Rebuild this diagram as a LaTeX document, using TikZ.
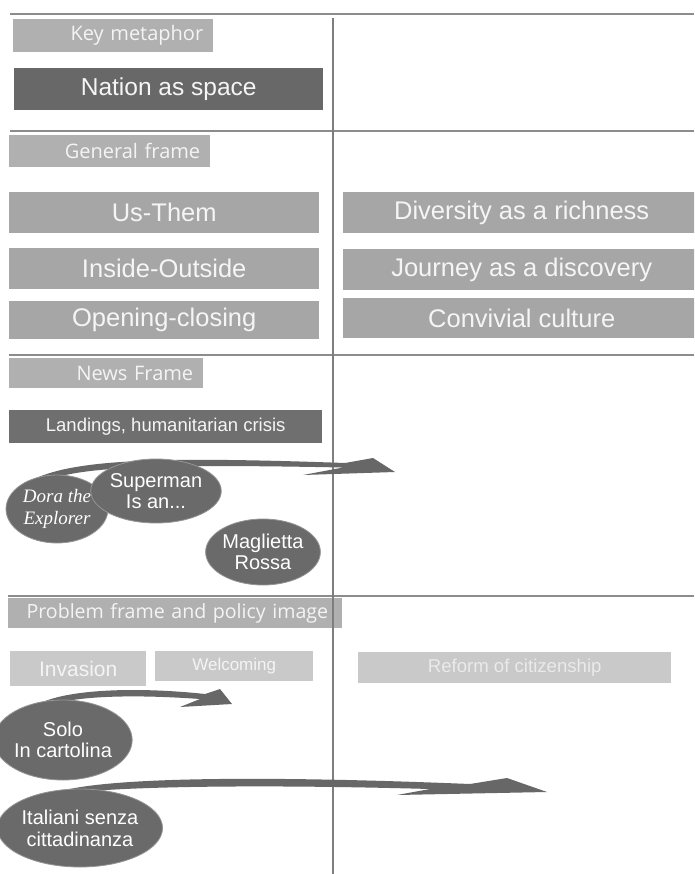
\documentclass[tikz,border=0pt]{standalone}
\usepackage{fontspec}
\setmainfont{Liberation Sans}
\newfontfamily\lblfont{Open Sans}
\newfontfamily\dorafont{Liberation Serif}
\usetikzlibrary{shapes.geometric}
\definecolor{linegray}{HTML}{8C8C8C}
\definecolor{vlinegray}{HTML}{7E7E7E}
\definecolor{lblgray}{HTML}{B0B0B0}
\definecolor{lbltext}{HTML}{F4F4F4}
\definecolor{darkbox}{HTML}{686868}
\definecolor{landbox}{HTML}{6F6F6F}
\definecolor{midbox}{HTML}{A6A6A6}
\definecolor{lightbox}{HTML}{C9C9C9}
\definecolor{ellgray}{HTML}{6A6A6A}
\definecolor{ellborder}{HTML}{959595}
\definecolor{arrgray}{HTML}{676767}
\definecolor{boxtext}{HTML}{F5F5F5}
\definecolor{faintext}{HTML}{EAEAEA}
\tikzset{
  box/.style={anchor=north west, inner sep=0pt, text=boxtext, font=\fontsize{25.5}{28}\selectfont},
  lbl/.style={anchor=north west, inner sep=0pt, fill=lblgray, text=lbltext, align=right, font=\lblfont\fontsize{20}{22}\selectfont},
  ell/.style={ellipse, fill=ellgray, draw=ellborder, line width=0.8pt, inner sep=0pt, text=white, align=center, font=\fontsize{20}{21.5}\selectfont},
  arr/.style={fill=arrgray},
  sepline/.style={draw=linegray, line width=2.5pt},
}
\begin{document}
\begin{tikzpicture}[x=1pt,y=-1pt]
\useasboundingbox (0,0) rectangle (694,874);
\fill[white] (0,0) rectangle (694,874);
\clip (0,0) rectangle (694,874);
% separators
\draw[sepline] (10,14) -- (694,14);
\draw[sepline] (10,131) -- (694,131);
\draw[sepline] (9,355) -- (694,355);
\draw[sepline] (8,596) -- (694,596);
% key metaphor
\node[lbl, minimum width=200pt, minimum height=33pt, text width=180pt] (keym) at (13,19) {Key metaphor};
\node[box, fill=darkbox, minimum width=309pt, minimum height=42pt, font=\fontsize{24.5}{27}\selectfont] (nation) at (14,68) {Nation as space};
% general frame
\node[lbl, minimum width=201pt, minimum height=32pt, text width=181pt] (genf) at (9,135) {General frame};
\node[box, fill=midbox, minimum width=310pt, minimum height=41pt] (usthem) at (9,192) {Us-Them};
\node[box, fill=midbox, minimum width=310pt, minimum height=41pt] (inside) at (9,248) {Inside-Outside};
\node[box, fill=midbox, minimum width=310pt, minimum height=38pt] (opening) at (9,301) {Opening-closing};
\node[box, fill=midbox, minimum width=357pt, minimum height=41pt] (divers) at (343,192) {Diversity as a richness};
\node[box, fill=midbox, minimum width=357pt, minimum height=41pt] (journey) at (343,249) {Journey as a discovery};
\node[box, fill=midbox, minimum width=357pt, minimum height=40pt] (convivial) at (343,298) {Convivial culture};
% news frame
\node[lbl, minimum width=194pt, minimum height=30pt, text width=174pt] (newsf) at (9,358) {News Frame};
\node[box, fill=landbox, minimum width=313pt, minimum height=33pt, font=\fontsize{18.5}{20}\selectfont] (landings) at (9,410) {Landings, humanitarian crisis};
% problem frame
\node[lbl, minimum width=334pt, minimum height=30pt, text width=306pt, font=\lblfont\fontsize{19.6}{22}\selectfont] (problem) at (8,598) {Problem frame and policy image};
\node[box, fill=lightbox, minimum width=136pt, minimum height=35pt, font=\fontsize{21}{23}\selectfont, text=lbltext] (invasion) at (10,651) {Invasion};
\node[box, fill=lightbox, minimum width=158pt, minimum height=30pt, font=\fontsize{17}{19}\selectfont, text=lbltext] (welcoming) at (155,651) {Welcoming};
\node[box, fill=lightbox, minimum width=313pt, minimum height=31pt, font=\fontsize{18.6}{20}\selectfont, text=faintext] (reform) at (358,652) {Reform of citizenship};
% vertical divider
\draw[draw=vlinegray, line width=1.6pt] (333,18) -- (333,874);
\path (57,509) coordinate (dorac) (63,740) coordinate (soloc) (80,828) coordinate (italc);
\coordinate (tipA) at (395,472);
\coordinate (tipB) at (232,704);
\coordinate (tipC) at (547,792);
% arrows
\fill[arr] (30,481) .. controls (70,460) and (150,456) .. (345,463) -- (373,458) -- (tipA) -- (303,475) -- (343,467.5) .. controls (160,464) and (80,466) .. (42,482) -- cycle;
\fill[arr] (35,706) .. controls (60,690) and (130,686) .. (205,694) -- (220,689) -- (tipB) -- (180,707) -- (200,699) .. controls (130,694) and (70,696) .. (45,707) -- cycle;
\fill[arr] (61,791) .. controls (110,778) and (250,775) .. (470,784) -- (507,778) -- (tipC) -- (397,795) -- (430,789) .. controls (250,784) and (130,787) .. (81,792) -- cycle;
% ellipses
\node[ell, minimum width=102pt, minimum height=68pt, font=\dorafont\itshape\fontsize{19}{22}\selectfont] (dora) at (dorac) {Dora the\\Explorer};
\node[ell, minimum width=120pt, minimum height=64pt] (superman) at (156,491) {Superman\\Is an...};
\node[ell, minimum width=94pt, minimum height=66pt] (maglietta) at (263,552) {Maglietta\\Rossa};
\node[ell, minimum width=112pt, minimum height=80pt] (solo) at (soloc) {Solo\\In cartolina};
\node[ell, minimum width=146pt, minimum height=78pt, font=\fontsize{20}{22}\selectfont] (italiani) at (italc) {Italiani senza\\cittadinanza};
\end{tikzpicture}
\end{document}
